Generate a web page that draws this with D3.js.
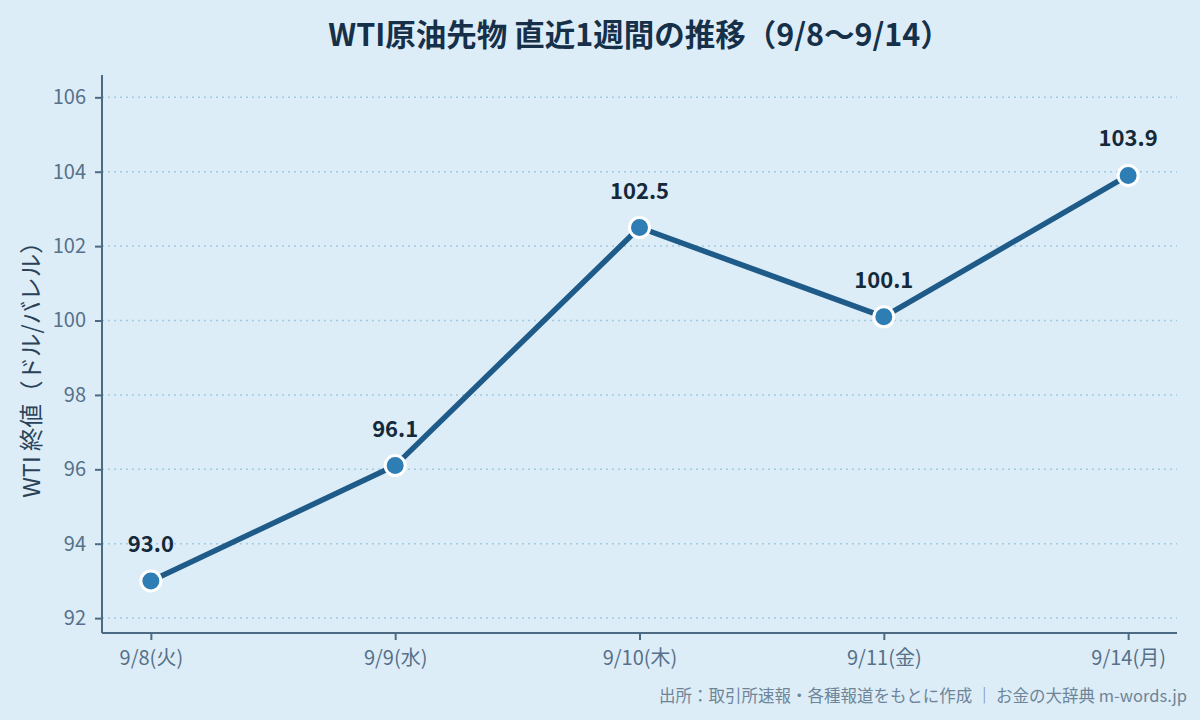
<!DOCTYPE html>
<html><head><meta charset="utf-8">
<script src="https://cdn.jsdelivr.net/npm/d3@7/dist/d3.min.js"></script>
<style>
html,body{margin:0;padding:0;background:#ddedf7;}
svg{display:block;font-family:"Noto Sans CJK JP","Noto Sans",sans-serif;}
</style></head>
<body><svg id="c" width="1200" height="720"></svg>
<script>
const categories = ["9/8(火)","9/9(水)","9/10(木)","9/11(金)","9/14(月)"];
const values = [93.0, 96.1, 102.5, 100.1, 103.9];
const yTicks = [92,94,96,98,100,102,104,106];
const title = "WTI原油先物 直近1週間の推移（9/8〜9/14）";
const yLabel = "WTI 終値（ドル/バレル）";
const footer = "出所：取引所速報・各種報道をもとに作成 ｜ お金の大辞典 m-words.jp";

const W=1200,H=720;
const m={l:102,r:23,t:75,b:87};
const FF='"Noto Sans CJK JP","Noto Sans",sans-serif';
const svg=d3.select("#c");
svg.append("rect").attr("width",W).attr("height",H).attr("fill","#ddedf7");
const x=d3.scalePoint().domain(categories).range([m.l,W-m.r]).padding(0.2);
const y=d3.scaleLinear().domain([91.6,106.6]).range([H-m.b,m.t]);
const axisCol="#4d6a84";

// grid
svg.append("g").selectAll("line").data(yTicks).join("line")
 .attr("x1",m.l).attr("x2",W-m.r).attr("y1",d=>y(d)).attr("y2",d=>y(d))
 .attr("stroke","#9fcbe3").attr("stroke-width",1.5).attr("stroke-dasharray","2,4");

const gy=svg.append("g").attr("transform",`translate(${m.l},0)`)
 .call(d3.axisLeft(y).tickValues(yTicks).tickSize(7).tickSizeOuter(0).tickPadding(9));
const gx=svg.append("g").attr("transform",`translate(0,${H-m.b})`)
 .call(d3.axisBottom(x).tickSize(7).tickSizeOuter(0).tickPadding(11));
[gy,gx].forEach(g=>{
 g.attr("font-family",FF).attr("font-size",20);
 g.select(".domain").attr("stroke",axisCol).attr("stroke-width",2);
 g.selectAll(".tick line").attr("stroke",axisCol).attr("stroke-width",2);
 g.selectAll(".tick text").attr("fill","#56718a").attr("font-size",20);
});
gy.select(".domain").attr("d",`M0,${H-m.b}V${m.t}`);
gx.select(".domain").attr("d",`M${m.l},0H${W-m.r}`);

const line=d3.line().x((d,i)=>x(categories[i])).y(d=>y(d));
svg.append("path").datum(values).attr("d",line).attr("fill","none")
 .attr("stroke","#1f5b89").attr("stroke-width",5.5).attr("stroke-linejoin","round");
svg.append("g").selectAll("circle").data(values).join("circle")
 .attr("cx",(d,i)=>x(categories[i])).attr("cy",d=>y(d)).attr("r",10)
 .attr("fill","#2e7db5").attr("stroke","#fff").attr("stroke-width",3);
svg.append("g").selectAll("text").data(values).join("text")
 .attr("x",(d,i)=>x(categories[i])).attr("y",d=>y(d)-29)
 .attr("text-anchor","middle").attr("font-size",22).attr("font-weight","bold")
 .attr("fill","#14293a").text(d=>d.toFixed(1));

svg.append("text").attr("x",(m.l+W-m.r)/2).attr("y",46).attr("text-anchor","middle")
 .attr("font-size",30.5).attr("font-weight","bold").attr("fill","#16304a").text(title);
svg.append("text").attr("transform",`translate(40,364) rotate(-90)`)
 .attr("text-anchor","middle").attr("font-size",23.5).attr("fill","#2a4257").text(yLabel);
svg.append("text").attr("x",1187).attr("y",702).attr("text-anchor","end")
 .attr("font-size",16.5).attr("fill","#6d8599").text(footer);
</script></body></html>
